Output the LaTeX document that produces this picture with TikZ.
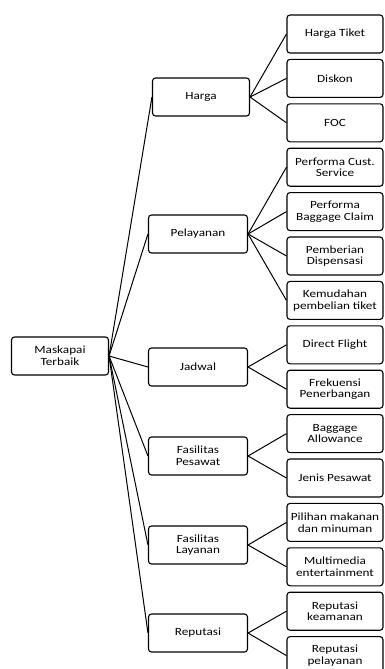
\documentclass[tikz,border=0pt]{standalone}
\usepackage{fontspec}
\setmainfont{Carlito}[FakeStretch=1.2]
\usetikzlibrary{positioning}

\begin{document}
\begin{tikzpicture}[x=1pt,y=-1pt,font=\fontsize{11}{11.8}\selectfont,every node/.style={align=center},
  box/.style={draw,rounded corners=3pt,line width=1.1pt,minimum width=97pt,minimum height=38pt,inner sep=1pt},
  leaf/.style={box,minimum width=96pt},link/.style={line width=1pt}]
  \useasboundingbox (0,0) rectangle (385,669);
  \node[box] (root) at (60,356) {Maskapai\\Terbaik};
  \node[box] (harga) at (201,97) {Harga};
  \node[box,minimum width=99pt] (pelayanan) at (198,234) {Pelayanan};
  \node[box,minimum width=99pt] (jadwal) at (198,367) {Jadwal};
  \node[box,minimum width=99pt] (pesawat) at (198,456) {Fasilitas\\Pesawat};
  \node[box,minimum width=99pt] (layanan) at (198,545) {Fasilitas\\Layanan};
  \node[box,minimum width=99pt] (reputasi) at (198,633) {Reputasi};
  \node[leaf] (tiket) at (335,34) {Harga Tiket};
  \node[leaf,below=5.3pt of tiket] (diskon) {Diskon};
  \node[leaf,below=5.3pt of diskon] (foc) {FOC};
  \node[leaf,below=5.3pt of foc] (cust) {Performa Cust.\\Service};
  \node[leaf,below=5.3pt of cust] (claim) {Performa\\Baggage Claim};
  \node[leaf,below=5.3pt of claim] (dispensasi) {Pemberian\\Dispensasi};
  \node[leaf,below=5.3pt of dispensasi] (beli) {Kemudahan\\pembelian tiket};
  \node[leaf,below=5.3pt of beli] (direct) {Direct Flight};
  \node[leaf,below=5.3pt of direct] (frekuensi) {Frekuensi\\Penerbangan};
  \node[leaf,below=5.3pt of frekuensi] (allowance) {Baggage\\Allowance};
  \node[leaf,below=5.3pt of allowance] (jenis) {Jenis Pesawat};
  \node[leaf,below=5.3pt of jenis] (makanan) {Pilihan makanan\\dan minuman};
  \node[leaf,below=5.3pt of makanan] (multimedia) {Multimedia\\entertainment};
  \node[leaf,below=5.3pt of multimedia] (keamanan) {Reputasi\\keamanan};
  \node[leaf,below=5.3pt of keamanan] (repplay) {Reputasi\\pelayanan};
  \foreach \m in {harga,pelayanan,jadwal,pesawat,layanan,reputasi} \draw[link] (root.east) -- (\m.west);
  \foreach \c in {tiket,diskon,foc} \draw[link] (harga.east) -- (\c.west);
  \foreach \c in {cust,claim,dispensasi,beli} \draw[link] (pelayanan.east) -- (\c.west);
  \foreach \c in {direct,frekuensi} \draw[link] (jadwal.east) -- (\c.west);
  \foreach \c in {allowance,jenis} \draw[link] (pesawat.east) -- (\c.west);
  \foreach \c in {makanan,multimedia} \draw[link] (layanan.east) -- (\c.west);
  \foreach \c in {keamanan,repplay} \draw[link] (reputasi.east) -- (\c.west);
\end{tikzpicture}
\end{document}
